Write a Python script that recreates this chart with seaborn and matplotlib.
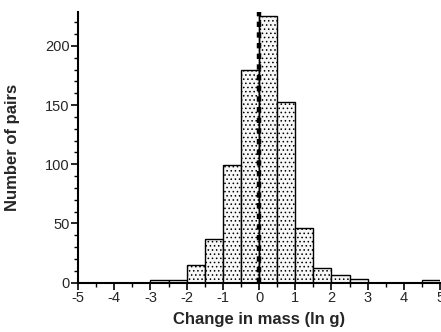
import matplotlib
matplotlib.use("Agg")
import matplotlib.pyplot as plt
import seaborn as sns
import numpy as np
from matplotlib.ticker import MultipleLocator

sns.set_style("ticks")
plt.rcParams['font.family'] = ['Liberation Sans', 'DejaVu Sans']
plt.rcParams['hatch.color'] = '#9a9a9a'
plt.rcParams['hatch.linewidth'] = 0.6

bin_centers = [-2.75, -2.25, -1.75, -1.25, -0.75, -0.25, 0.25, 0.75,
               1.25, 1.75, 2.25, 2.75, 3.25, 3.75, 4.25, 4.75]
counts = [2, 2, 15, 37, 99, 180, 225, 153, 46, 12, 6, 3, 0, 0, 0, 2]
bin_edges = list(np.arange(-3.0, 5.01, 0.5))
xticks = [-5, -4, -3, -2, -1, 0, 1, 2, 3, 4, 5]
yticks = [0, 50, 100, 150, 200]

fig = plt.figure(figsize=(4.41, 3.32), dpi=100)
ax = fig.add_axes([0.177, 0.149, 0.821, 0.816])

sns.histplot(x=bin_centers, weights=counts, bins=bin_edges, ax=ax,
             color='#f2f2f2', edgecolor='black', linewidth=1.0, alpha=1.0)
for p in ax.patches:
    p.set_hatch('....')
    p.set_facecolor('#f7f7f7')

ax.plot([0, 0], [0, 229], color='black', linestyle=(0, (1.2, 1.2)), linewidth=3.2,
        dash_capstyle='butt', zorder=5)
ax.plot([0, 0], [0, 229], color='black', linewidth=1.0, zorder=5)

ax.set_xlim(-5, 5)
ax.set_ylim(0, 229)
ax.set_xticks(xticks)
ax.set_xticklabels([str(t) for t in xticks])
ax.set_yticks(yticks)
ax.xaxis.set_minor_locator(MultipleLocator(0.5))
ax.yaxis.set_minor_locator(MultipleLocator(10))
ax.tick_params(axis='both', which='major', length=5, width=1.2, labelsize=10.5, pad=1, color='black')
ax.tick_params(axis='both', which='minor', length=3, width=1.0, color='black')
for s in ['top', 'right']:
    ax.spines[s].set_visible(False)
for s in ['left', 'bottom']:
    ax.spines[s].set_linewidth(1.5)
    ax.spines[s].set_color('black')

ax.set_xlabel('Change in mass (ln g)', fontsize=12, fontweight='bold', labelpad=5)
ax.set_ylabel('Number of pairs', fontsize=12, fontweight='bold', labelpad=18)

fig.savefig('out.png', dpi=100)
